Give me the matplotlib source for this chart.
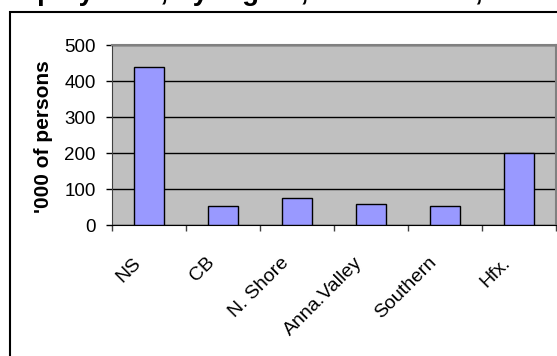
import matplotlib.pyplot as plt
import matplotlib.transforms as mtransforms
import numpy as np

# employment by region, thousands of persons
regions = ['NS', 'CB', 'N. Shore', 'Anna.Valley', 'Southern', 'Hfx.']
persons = [440, 54, 75, 57, 54, 199]
yticks = [0, 100, 200, 300, 400, 500]

plt.rcParams['font.family'] = ['Liberation Sans', 'DejaVu Sans']

fig = plt.figure(figsize=(5.57, 3.56), dpi=100)
W, H = 557, 356

# outer chart border (runs off the right and bottom edges)
fig.patches.append(plt.Rectangle((10 / W, -0.1), 1.2, 1 - 12 / H + 0.1,
                                 transform=fig.transFigure, fill=False,
                                 edgecolor='black', linewidth=1.5))

ax = fig.add_axes([112 / W, 1 - 225 / H, (556 - 112) / W, (225 - 45) / H])
ax.set_facecolor('#C0C0C0')

x = np.arange(len(regions))
ax.bar(x, persons, width=0.41, color='#9999FF', edgecolor='black',
       linewidth=1, zorder=3)

ax.set_xlim(-0.5, len(regions) - 0.5)
ax.set_ylim(0, 500)
ax.set_yticks(yticks)
ax.yaxis.grid(True, color='black', linewidth=1, zorder=1)
ax.set_axisbelow(True)

# category boundaries carry the tick marks, labels sit at centres
ax.set_xticks(x)
ax.set_xticks(np.arange(len(regions) + 1) - 0.5, minor=True)
ax.tick_params(axis='x', which='major', length=0, pad=21)
ax.tick_params(axis='x', which='minor', length=4.3, width=1, color='#404040')
ax.tick_params(axis='y', length=4.3, width=1, color='black', labelsize=13.5,
               pad=7.5)
ax.set_xticklabels(regions, rotation=45, ha='right', fontsize=14)
shift = mtransforms.ScaledTranslation(-5 / 100, 0, fig.dpi_scale_trans)
for lbl in ax.get_xticklabels():
    lbl.set_transform(lbl.get_transform() + shift)

for side in ['top', 'right']:
    ax.spines[side].set_color('#808080')
    ax.spines[side].set_linewidth(1.5)
ax.spines['left'].set_color('#404040')
ax.spines['bottom'].set_color('black')

ax.set_ylabel("'000 of persons", fontsize=15, fontweight='bold')
ax.yaxis.set_label_coords(-0.133, 0.49)

# title sits mostly above the top edge of the figure
fig.text(-6 / W, 1 - 0.5 / H, 'Employment, by region, Nova Scotia, 2004',
         ha='left', va='baseline', fontsize=20, fontweight='bold')

fig.savefig('out.png', dpi=100)
